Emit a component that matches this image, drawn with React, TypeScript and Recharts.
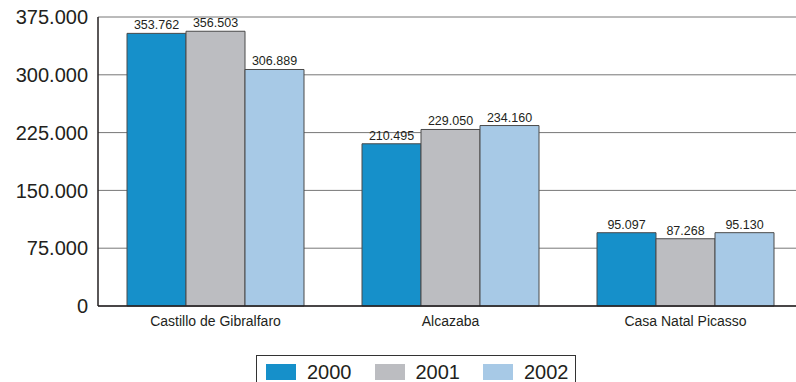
import { BarChart, Bar, XAxis, YAxis, CartesianGrid, LabelList } from 'recharts'

const sites = ['Castillo de Gibralfaro', 'Alcazaba', 'Casa Natal Picasso']
const visitors2000 = [353762, 210495, 95097]
const visitors2001 = [356503, 229050, 87268]
const visitors2002 = [306889, 234160, 95130]
const yTicks = [0, 75000, 150000, 225000, 300000, 375000]

const series = [
  { key: 'y2000', name: '2000', color: '#1690ca' },
  { key: 'y2001', name: '2001', color: '#bcbdc1' },
  { key: 'y2002', name: '2002', color: '#a7c9e6' },
]

const data = sites.map((site, i) => ({
  site,
  y2000: visitors2000[i],
  y2001: visitors2001[i],
  y2002: visitors2002[i],
}))

// es-ES style thousands: 353.762
const fmt = (v: number) =>
  String(Math.round(v)).replace(/\B(?=(\d{3})+(?!\d))/g, '.')

const font = '"Liberation Sans", Arial, Helvetica, sans-serif'
const ink = '#231f20'

export default function App() {
  return (
    <div
      style={{
        position: 'absolute',
        left: 0,
        top: 0,
        width: 796,
        height: 382,
        overflow: 'hidden',
        background: '#fff',
        fontFamily: font,
      }}
    >
      <BarChart
        width={811}
        height={382}
        data={data}
        margin={{ top: 17, right: 8, left: 0, bottom: 46 }}
        barCategoryGap={29}
        barGap={0}
      >
        <CartesianGrid vertical={false} stroke="#777" strokeWidth={1} />
        <XAxis
          dataKey="site"
          height={30}
          tickLine={false}
          axisLine={{ stroke: ink, strokeWidth: 1.5 }}
          tick={{ fontSize: 14, fill: ink, fontFamily: font }}
          tickMargin={4}
          interval={0}
        />
        <YAxis
          width={98}
          domain={[0, 375000]}
          ticks={yTicks}
          tickFormatter={fmt}
          tickLine={false}
          tickMargin={4}
          axisLine={{ stroke: ink, strokeWidth: 1.5 }}
          tick={{ fontSize: 20, fill: ink, fontFamily: font }}
        />
        {series.map((s) => (
          <Bar
            key={s.key}
            dataKey={s.key}
            name={s.name}
            fill={s.color}
            stroke="#4a4a4a"
            strokeWidth={1}
            isAnimationActive={false}
          >
            <LabelList
              dataKey={s.key}
              position="top"
              offset={4}
              formatter={(v: any) => fmt(Number(v))}
              style={{ fontSize: 12.5, fill: ink, fontFamily: font }}
            />
          </Bar>
        ))}
      </BarChart>
      <div
        style={{
          position: 'absolute',
          left: 256,
          top: 355,
          width: 320,
          height: 40,
          border: '1px solid #333',
          boxSizing: 'border-box',
        }}
      >
        {series.map((s, i) => (
          <div
            key={s.key}
            style={{
              position: 'absolute',
              left: 9 + i * 108.5,
              top: 5,
              display: 'flex',
              alignItems: 'center',
              height: 22,
            }}
          >
            <span
              style={{
                display: 'inline-block',
                width: 30,
                height: 16,
                background: s.color,
              }}
            />
            <span
              style={{
                marginLeft: 11,
                fontSize: 20,
                color: ink,
                lineHeight: '22px',
              }}
            >
              {s.name}
            </span>
          </div>
        ))}
      </div>
    </div>
  )
}
